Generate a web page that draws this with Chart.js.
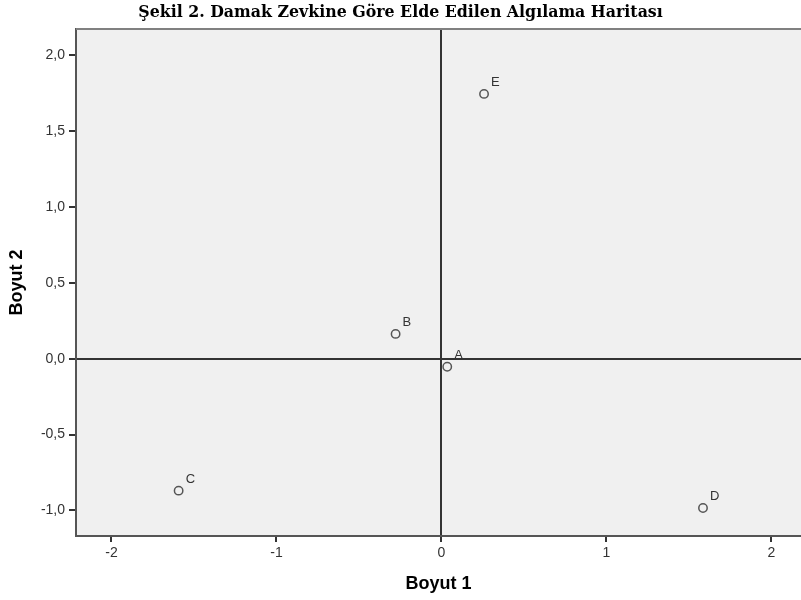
<!DOCTYPE html>
<html>
<head>
<meta charset="utf-8">
<script src="https://cdn.jsdelivr.net/npm/chart.js@4/dist/chart.umd.min.js"></script>
<style>
  html, body { margin: 0; padding: 0; background: #ffffff; overflow: hidden; }
  #wrap { width: 801px; height: 600px; }
  canvas { display: block; }
</style>
</head>
<body>
<div id="wrap"><canvas id="c" width="801" height="600"></canvas></div>
<script>
const pointLabels = ['A', 'B', 'C', 'D', 'E'];
const dim1Values = [0.035, -0.278, -1.593, 1.585, 0.258];
const dim2Values = [-0.053, 0.163, -0.870, -0.984, 1.745];
const xTickValues = [-2, -1, 0, 1, 2];
const yTickValues = [-1.0, -0.5, 0.0, 0.5, 1.0, 1.5, 2.0];
const chartTitle = 'Şekil 2. Damak Zevkine Göre Elde Edilen Algılama Haritası';
const xTitle = 'Boyut 1';
const yTitle = 'Boyut 2';

const points = dim1Values.map((x, i) => ({ x: x, y: dim2Values[i], label: pointLabels[i] }));

const bgPlugin = {
  id: 'plotBg',
  beforeDraw(chart) {
    const { ctx, chartArea: a } = chart;
    ctx.save();
    ctx.fillStyle = '#f0f0f0';
    ctx.fillRect(a.left, a.top, a.right - a.left, a.bottom - a.top);
    ctx.restore();
  },
  afterDraw(chart) {
    const { ctx, chartArea: a } = chart;
    ctx.save();
    ctx.strokeStyle = '#808080';
    ctx.lineWidth = 2;
    ctx.beginPath();
    ctx.moveTo(a.left, a.top);
    ctx.lineTo(a.right, a.top);
    ctx.stroke();
    ctx.restore();
  }
};

const labelPlugin = {
  id: 'pointLabels',
  afterDatasetsDraw(chart) {
    const { ctx } = chart;
    const meta = chart.getDatasetMeta(0);
    ctx.save();
    ctx.font = '13px "Liberation Sans", Arial, sans-serif';
    ctx.fillStyle = '#333333';
    ctx.textAlign = 'left';
    ctx.textBaseline = 'middle';
    meta.data.forEach((el, i) => {
      ctx.fillText(chart.data.datasets[0].data[i].label, el.x + 7, el.y - 11.5);
    });
    ctx.restore();
  }
};

new Chart(document.getElementById('c'), {
  type: 'scatter',
  data: {
    datasets: [{
      data: points,
      pointStyle: 'circle',
      pointRadius: 4.2,
      pointHoverRadius: 4.2,
      pointBorderWidth: 1.5,
      pointBorderColor: '#555555',
      pointBackgroundColor: 'rgba(0,0,0,0)',
      clip: false
    }]
  },
  options: {
    responsive: false,
    animation: false,
    layout: { autoPadding: false, padding: { left: 0, right: 0, top: 0, bottom: 0 } },
    plugins: {
      legend: { display: false },
      tooltip: { enabled: false },
      title: {
        display: true,
        text: chartTitle,
        color: '#000000',
        font: { family: '"DejaVu Serif", "Liberation Serif", serif', size: 15.8, weight: 'bold' },
        padding: { top: 3.5, bottom: 6.5 }
      }
    },
    scales: {
      x: {
        type: 'linear',
        min: -2.215,
        max: 2.179,
        afterFit(scale) { scale.height = 64; scale.paddingLeft = 0; scale.paddingRight = 0; },
        afterBuildTicks(scale) { scale.ticks = xTickValues.map(v => ({ value: v })); },
        border: { display: true, color: '#555555', width: 2 },
        grid: {
          drawOnChartArea: true,
          drawTicks: true,
          tickLength: 6,
          tickWidth: 2,
          tickColor: '#333333',
          color: (c) => (c.tick && c.tick.value === 0 ? '#333333' : 'rgba(0,0,0,0)'),
          lineWidth: 2
        },
        ticks: {
          color: '#333333',
          padding: 3,
          font: { family: '"Liberation Sans", Arial, sans-serif', size: 14 },
          callback: (v) => String(v)
        },
        title: {
          display: true,
          text: xTitle,
          color: '#000000',
          font: { family: '"Liberation Sans", Arial, sans-serif', size: 18, weight: 'bold' },
          padding: { top: 0, bottom: 5.5 }
        }
      },
      y: {
        type: 'linear',
        min: -1.169,
        max: 2.173,
        afterFit(scale) { scale.width = 76; },
        afterBuildTicks(scale) { scale.ticks = yTickValues.map(v => ({ value: v })); },
        border: { display: true, color: '#555555', width: 2 },
        grid: {
          drawOnChartArea: true,
          drawTicks: true,
          tickLength: 7,
          tickWidth: 2,
          tickColor: '#333333',
          color: (c) => (c.tick && c.tick.value === 0 ? '#333333' : 'rgba(0,0,0,0)'),
          lineWidth: 2
        },
        ticks: {
          color: '#333333',
          padding: 4,
          font: { family: '"Liberation Sans", Arial, sans-serif', size: 14 },
          callback: (v) => Number(v).toFixed(1).replace('.', ',')
        },
        title: {
          display: true,
          text: yTitle,
          color: '#000000',
          font: { family: '"Liberation Sans", Arial, sans-serif', size: 18, weight: 'bold' },
          padding: { top: 6.7, bottom: 0 }
        }
      }
    }
  },
  plugins: [bgPlugin, labelPlugin]
});
</script>
</body>
</html>
